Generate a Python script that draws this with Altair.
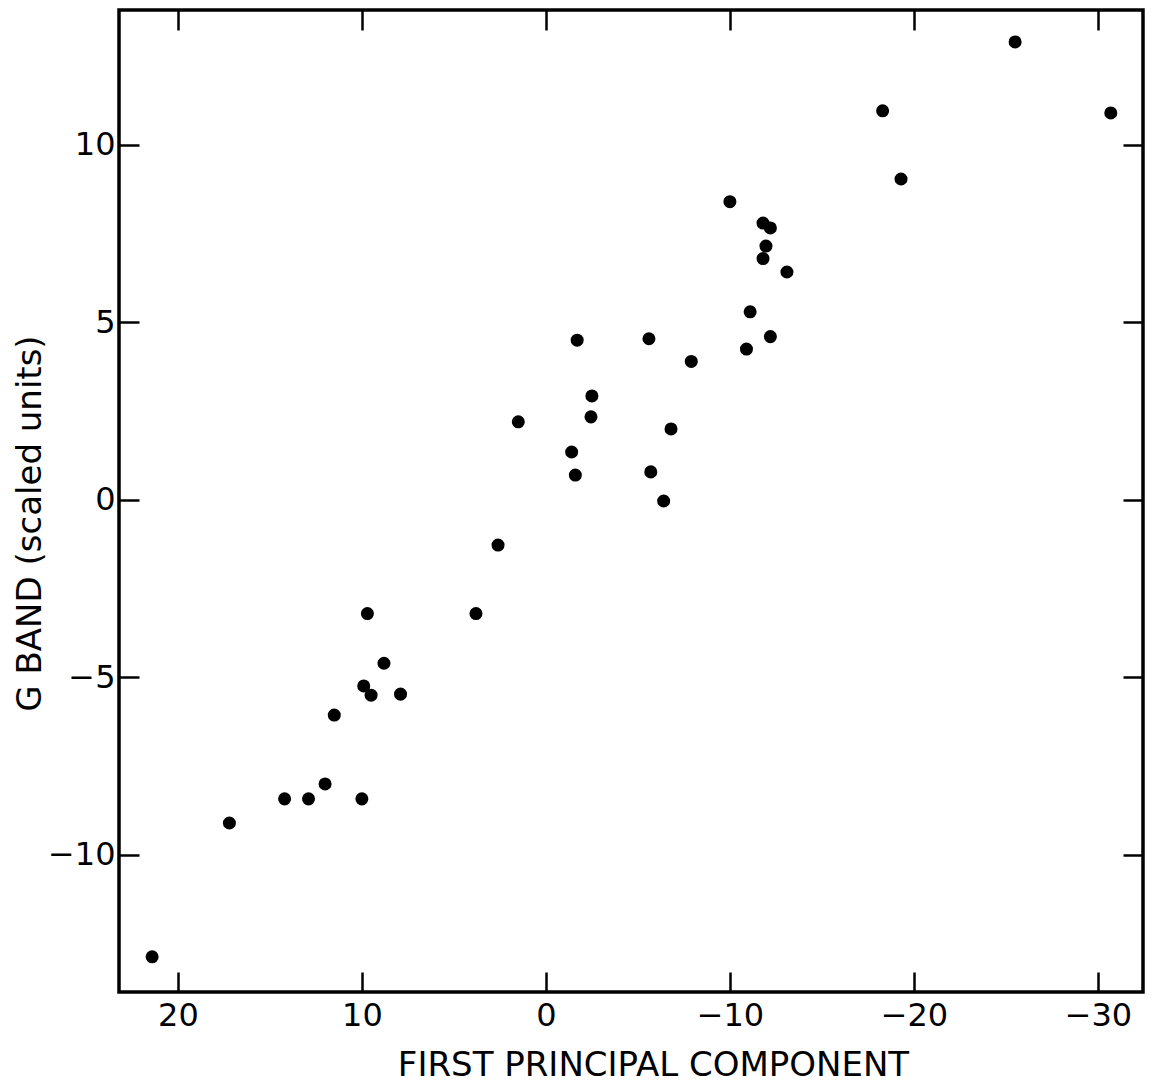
import altair as alt
import pandas as pd

# First principal component (x) and G band in scaled units (y)
pc1 = [-25.5, -18.3, -30.7, -19.3,
       -11.8, -12.2, -11.96, -11.8, -13.1, -10.0,
       -11.1, -1.7, -5.6, -12.2, -10.9, -7.9, -2.5, 1.5, -2.45, -6.8,
       -1.4, -1.6, -5.7, -6.4, 2.6, 3.8,
       9.7, 8.8, 9.9, 9.5, 7.9, 11.5, 12.0, 14.2, 12.9, 10.0, 17.2, 21.4]
gband = [12.9, 10.96, 10.9, 9.04,
         7.8, 7.66, 7.15, 6.8, 6.42, 8.4,
         5.3, 4.5, 4.54, 4.6, 4.25, 3.9, 2.93, 2.2, 2.34, 2.0,
         1.35, 0.7, 0.79, -0.03, -1.27, -3.2,
         -3.2, -4.6, -5.24, -5.5, -5.47, -6.06, -8.0, -8.42, -8.42, -8.42, -9.1, -12.87]

x_ticks = [20, 10, 0, -10, -20, -30]
y_ticks = [-10, -5, 0, 5, 10]
x_domain = [-32.45, 23.2]
y_domain = [-13.86, 13.8]

df = pd.DataFrame({"pc1": pc1, "gband": gband})

FONT = "DejaVu Sans"
TICK = 20

xscale = alt.Scale(domain=x_domain, reverse=True, nice=False, zero=False)
yscale = alt.Scale(domain=y_domain, nice=False, zero=False)

main = alt.Chart(df).mark_circle(size=170, color="black", opacity=1).encode(
    x=alt.X("pc1:Q", scale=xscale,
            axis=alt.Axis(orient="bottom", values=x_ticks, offset=-TICK, tickSize=TICK,
                          tickWidth=2.5, tickColor="black", domain=False, grid=False,
                          labelFont=FONT, labelFontSize=32, labelColor="black",
                          labelPadding=8, labelFlush=False, labelOverlap=False,
                          title="FIRST PRINCIPAL COMPONENT", titleFont=FONT,
                          titleFontSize=34, titleFontWeight="normal", titleColor="black",
                          titleX=534, titleY=103, titleAlign="center",
                          titleBaseline="alphabetic")),
    y=alt.Y("gband:Q", scale=yscale,
            axis=alt.Axis(orient="left", values=y_ticks, offset=-TICK, tickSize=TICK,
                          tickWidth=2.5, tickColor="black", domain=False, grid=False,
                          labelFont=FONT, labelFontSize=32, labelColor="black",
                          labelPadding=4, labelFlush=False, labelOverlap=False,
                          title="G BAND (scaled units)", titleFont=FONT,
                          titleFontSize=34, titleFontWeight="normal", titleColor="black",
                          titleX=-109, titleY=513, titleAngle=-90, titleAlign="center",
                          titleBaseline="middle")),
)

frame = alt.Chart(df).mark_circle(size=170, opacity=0).encode(
    x=alt.X("pc1:Q", scale=xscale,
            axis=alt.Axis(orient="top", values=x_ticks, offset=-TICK, tickSize=TICK,
                          tickWidth=2.5, tickColor="black", domain=False, grid=False,
                          labels=False, title=None)),
    y=alt.Y("gband:Q", scale=yscale,
            axis=alt.Axis(orient="right", values=y_ticks, offset=-TICK, tickSize=TICK,
                          tickWidth=2.5, tickColor="black", domain=False, grid=False,
                          labels=False, title=None)),
)

chart = alt.layer(main, frame).resolve_axis(x="independent", y="independent").properties(
    width=1024, height=982,
    autosize=alt.AutoSizeParams(type="none"),
    padding={"left": 119, "top": 10, "right": 10, "bottom": 93},
    background="white",
).configure_view(stroke="black", strokeWidth=3.5)

chart.save("out.html", embed_options={"renderer": "svg", "actions": False})
